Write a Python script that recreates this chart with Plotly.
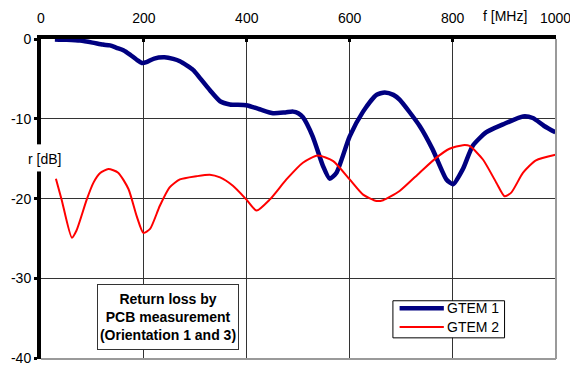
import plotly.graph_objects as go

# Return loss r [dB] versus frequency f [MHz]
gtem1_f = [27, 50, 76, 100, 120, 134, 147, 160, 173, 186, 196, 205, 220, 240, 257, 270,
           296, 309, 328, 348, 367, 399, 425, 451, 475, 490, 500, 509, 528, 548, 561, 574,
           600, 626, 652, 668, 685, 697, 736, 761, 788, 801, 820, 839, 865, 898, 937, 956,
           978, 1000]
gtem1_r = [-0.05, -0.1, -0.2, -0.45, -0.7, -0.8, -1.1, -1.4, -1.95, -2.6, -3.0, -2.9, -2.45,
           -2.3, -2.5, -2.8, -3.9, -4.9, -6.4, -7.8, -8.2, -8.3, -8.8, -9.3, -9.2, -9.1, -9.3,
           -9.8, -12.2, -15.9, -17.5, -16.8, -12.2, -9.1, -7.0, -6.7, -7.0, -7.6, -10.9, -13.8,
           -17.6, -18.2, -16.3, -13.4, -11.7, -10.7, -9.7, -9.9, -10.9, -11.7]

gtem2_f = [29, 40, 60, 69, 89, 102, 115, 131, 150, 170, 186, 199, 212, 231, 250, 270, 302,
           328, 348, 373, 399, 419, 445, 477, 509, 538, 568, 600, 626, 652, 665, 697, 736,
           768, 794, 820, 833, 859, 885, 901, 914, 937, 962, 1000]
gtem2_r = [-17.5, -20.1, -24.9, -24.0, -20.1, -18.0, -16.8, -16.3, -16.75, -18.8, -22.2,
           -24.3, -23.8, -20.9, -18.6, -17.6, -17.2, -17.0, -17.35, -18.4, -20.1, -21.5,
           -20.1, -17.6, -15.5, -14.6, -15.3, -17.6, -19.5, -20.3, -20.2, -19.05, -16.75,
           -14.9, -13.75, -13.3, -13.4, -15.1, -18.0, -19.7, -19.25, -16.75, -15.2, -14.5]

x_ticks = [0, 200, 400, 600, 800, 1000]
y_ticks = [0, -10, -20, -30, -40]

series_names = ["GTEM 1", "GTEM 2"]
series_colors = ["#000080", "#FF0000"]
series_widths = [4.5, 2]

FONT = "Liberation Sans, Arial, sans-serif"

fig = go.Figure()
for name, fx, ry, col, w in zip(series_names, [gtem1_f, gtem2_f], [gtem1_r, gtem2_r],
                                series_colors, series_widths):
    fig.add_trace(go.Scatter(x=fx, y=ry, mode="lines", name=name,
                             line=dict(color=col, width=w, shape="spline", smoothing=0.6),
                             showlegend=False))

fig.update_layout(
    width=570, height=366,
    margin=dict(l=41, r=14, t=39, b=7, autoexpand=False),
    paper_bgcolor="white", plot_bgcolor="white",
    font=dict(family=FONT, size=14, color="black"),
    xaxis=dict(range=[0, 1001], side="top", tickvals=x_ticks,
               ticktext=[str(v) for v in x_ticks],
               showgrid=True, gridcolor="#333333", gridwidth=1,
               showline=True, linecolor="black", linewidth=4,
               ticks="inside", ticklen=3, tickwidth=3, tickcolor="black",
               ticklabelstandoff=6, ticklabeloverflow="allow", automargin=False,
               zeroline=False, fixedrange=True),
    yaxis=dict(range=[-40.1, 0], tickvals=y_ticks,
               ticktext=[str(v) for v in y_ticks],
               showgrid=True, gridcolor="#333333", gridwidth=1,
               showline=True, linecolor="black", linewidth=4,
               ticks="outside", ticklen=3, tickwidth=3, tickcolor="black",
               ticklabeloverflow="allow", automargin=False,
               zeroline=False, fixedrange=True),
)

# grey frame on the right and bottom
fig.add_shape(type="line", xref="paper", yref="paper", x0=1, x1=1, y0=0, y1=1,
              line=dict(color="#9a9a9a", width=2), layer="above")
fig.add_shape(type="line", xref="paper", yref="paper", x0=0, x1=1, y0=0, y1=0,
              line=dict(color="#9a9a9a", width=2), layer="above")

# axis titles
fig.add_shape(type="rect", xref="paper", yref="y", x0=-0.012, x1=0.008, y0=-13.2, y1=-16.6,
              fillcolor="white", line=dict(width=0), layer="above")
fig.add_annotation(text="r [dB]", xref="paper", yref="y", x=-0.029, y=-15.0,
                   showarrow=False, font=dict(size=14))
fig.add_annotation(text="f [MHz]", xref="x", yref="paper", x=902, y=1.0, yshift=23,
                   yanchor="middle", showarrow=False, font=dict(size=14))

# description box
fig.add_annotation(text="<b>Return loss by<br>PCB measurement<br>(Orientation 1 and 3)</b>",
                   xref="x", yref="y", x=247, y=-34.8, showarrow=False,
                   font=dict(size=14), align="center", width=138, height=62,
                   bgcolor="white", bordercolor="#333333", borderwidth=1, borderpad=1)

# legend
fig.add_shape(type="rect", xref="x", yref="y", x0=684, x1=901, y0=-32.8, y1=-37.45,
              fillcolor="white", line=dict(color="black", width=1), layer="above")
for name, col, w, ly in zip(series_names, series_colors, series_widths, [-33.75, -36.1]):
    fig.add_shape(type="line", xref="x", yref="y", x0=697, x1=783, y0=ly, y1=ly,
                  line=dict(color=col, width=w), layer="above")
    fig.add_annotation(text=name, xref="x", yref="y", x=786, y=ly, xanchor="left",
                       showarrow=False, font=dict(size=14))

fig.write_html("out.html")
